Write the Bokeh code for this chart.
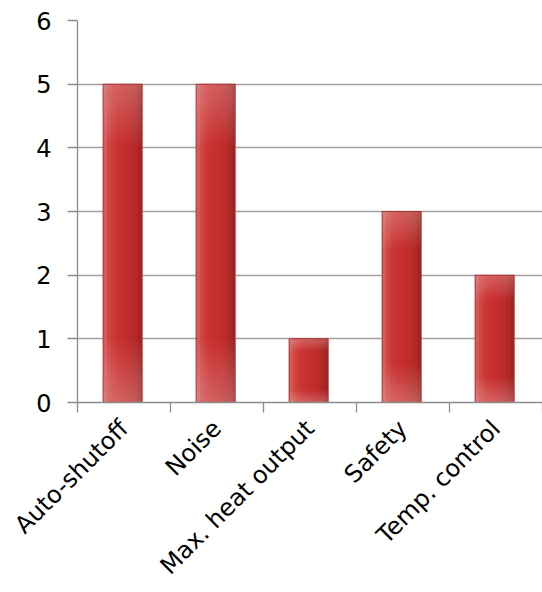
import math
from bokeh.plotting import figure
from bokeh.models import (ColumnDataSource, Range1d, LinearAxis, CategoricalAxis,
                          FixedTicker, FactorRange)
from bokeh.transform import dodge
from bokeh.embed import file_html
from bokeh.resources import INLINE

categories = ["Auto-shutoff", "Noise", "Max. heat output", "Safety", "Temp. control"]
counts = [5, 5, 1, 3, 2]
y_ticks = [0, 1, 2, 3, 4, 5, 6]

FONT = "DejaVu Sans"
AXIS_COL = "#8c8c8c"
GRID_COL = "#a0a0a0"

p = figure(x_range=FactorRange(*categories, range_padding=0),
           y_range=Range1d(0, 6),
           width=542, height=592, output_backend="svg", toolbar_location=None,
           x_axis_location=None,
           min_border_left=77, min_border_right=0, min_border_top=20,
           min_border_bottom=190)
p.outline_line_color = None
p.background_fill_color = "white"
p.border_fill_color = "white"
p.xgrid.grid_line_color = None
p.ygrid.grid_line_color = GRID_COL
p.ygrid.grid_line_width = 1.3
p.ygrid.ticker = FixedTicker(ticks=y_ticks)

# y axis
ya = p.yaxis[0]
ya.ticker = FixedTicker(ticks=y_ticks)
ya.axis_line_color = AXIS_COL
ya.axis_line_width = 1.3
ya.major_tick_line_color = AXIS_COL
ya.major_tick_line_width = 1.3
ya.major_tick_out = 10
ya.major_tick_in = 0
ya.minor_tick_line_color = None
ya.major_label_text_font = FONT
ya.major_label_text_font_size = "24px"
ya.major_label_text_color = "#000000"
ya.major_label_standoff = 16

# x axis: edge ticks at category boundaries (synthetic coords), then category labels
edge_ticks = list(range(len(categories) + 1))
edge_axis = LinearAxis(ticker=FixedTicker(ticks=edge_ticks))
edge_axis.axis_line_color = AXIS_COL
edge_axis.axis_line_width = 1.3
edge_axis.major_tick_line_color = AXIS_COL
edge_axis.major_tick_line_width = 1.3
edge_axis.major_tick_out = 10
edge_axis.major_tick_in = 0
edge_axis.minor_tick_line_color = None
edge_axis.major_label_overrides = {t: "" for t in edge_ticks}
edge_axis.major_label_text_font_size = "10px"
edge_axis.major_label_standoff = 0
p.add_layout(edge_axis, "below")

cat_axis = CategoricalAxis()
cat_axis.axis_line_color = None
cat_axis.major_tick_line_color = None
cat_axis.major_tick_out = 0
cat_axis.major_label_text_font = FONT
cat_axis.major_label_text_font_size = "24px"
cat_axis.major_label_text_color = "#000000"
cat_axis.major_label_orientation = math.pi / 4
cat_axis.major_label_standoff = 12
p.add_layout(cat_axis, "below")

# bars
bar_w = 0.42
shift = -0.015
src = ColumnDataSource(dict(cat=categories, val=counts))
p.vbar(x=dodge("cat", shift, range=p.x_range), top="val", width=bar_w, source=src,
       fill_color="#c63030", line_color=None)

# horizontal shading strips
strip_cols = ["#d65a58", "#d04644", "#cc3a38", "#c93332", "#c63030",
              "#c42e2d", "#c12d2c", "#bb2b2a", "#b22827", "#a02423"]
n = len(strip_cols)
for i, c in enumerate(strip_cols):
    off = shift - bar_w / 2 + (i + 0.5) * bar_w / n
    p.vbar(x=dodge("cat", off, range=p.x_range), top="val", width=bar_w / n + 0.002,
           source=src, fill_color=c, line_color=None)

# vertical highlights (top and bottom lighter)
for k in range(1, 13):
    frac = 0.016 * k
    hs = ColumnDataSource(dict(cat=categories,
                               t=[v for v in counts],
                               b=[v * (1 - frac) for v in counts],
                               bt=[v * frac for v in counts],
                               z=[0] * len(counts)))
    p.vbar(x=dodge("cat", shift, range=p.x_range), top="t", bottom="b", width=bar_w,
           source=hs, fill_color="white", fill_alpha=0.025, line_color=None)
    p.vbar(x=dodge("cat", shift, range=p.x_range), top="bt", bottom="z", width=bar_w,
           source=hs, fill_color="white", fill_alpha=0.022, line_color=None)

# outline
p.vbar(x=dodge("cat", shift, range=p.x_range), top="val", width=bar_w, source=src,
       fill_color=None, line_color="#a42a2a", line_width=1, line_alpha=0.8)

open("out.html", "w").write(file_html(p, INLINE))
